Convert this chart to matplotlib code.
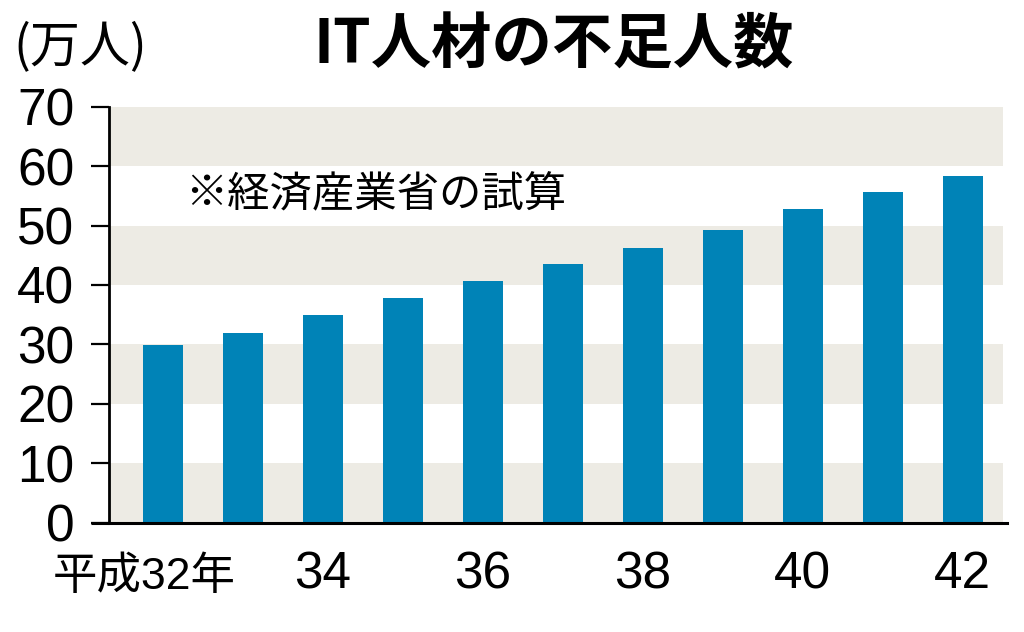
import matplotlib
matplotlib.use("Agg")
import matplotlib.pyplot as plt
import matplotlib.transforms as mtransforms

years = ["32", "33", "34", "35", "36", "37", "38", "39", "40", "41", "42"]
values = [29.9, 32.0, 34.9, 37.8, 40.6, 43.5, 46.3, 49.2, 52.8, 55.6, 58.4]
tick_positions = [0, 2, 4, 6, 8, 10]
tick_labels = ["平成32年", "34", "36", "38", "40", "42"]
yticks = [0, 10, 20, 30, 40, 50, 60, 70]
bands = [(0, 10), (20, 30), (40, 50), (60, 70)]

title = "IT人材の不足人数"
unit = "(万人)"
note = "※経済産業省の試算"

BAR = "#0083B7"
BAND = "#EDEBE4"
FONTS = ["Liberation Sans", "Noto Sans CJK JP", "DejaVu Sans"]
CJK = ["Noto Sans CJK JP", "DejaVu Sans"]

plt.rcParams["font.family"] = FONTS

fig = plt.figure(figsize=(10.24, 6.32), dpi=100)
ax = fig.add_axes([109 / 1024, 109.3 / 632, 898 / 1024, 416 / 632])

x = list(range(len(values)))
ax.set_xlim(-0.669, 10.556)
ax.set_ylim(0, 70)

band_frac = (1003 - 109) / 898
for lo, hi in bands:
    ax.axhspan(lo, hi, xmin=0, xmax=band_frac, color=BAND, lw=0, zorder=0)

ax.bar(x, values, width=0.5, color=BAR, zorder=2)

for s in ["top", "right"]:
    ax.spines[s].set_visible(False)
ax.spines["left"].set_linewidth(2)
ax.spines["bottom"].set_linewidth(2.2)
ax.spines["bottom"].set_zorder(3)

ax.set_yticks(yticks)
ax.set_yticklabels([str(v) for v in yticks])
ax.tick_params(axis="y", length=13, width=1.6, pad=12, labelsize=37, direction="out")

ax.set_xticks(tick_positions)
ax.set_xticklabels(tick_labels)
ax.tick_params(axis="x", length=0, pad=20, labelsize=37)

lbls = ax.get_xticklabels()
lbls[0].set_fontsize(32)
lbls[0].set_transform(lbls[0].get_transform() +
                      mtransforms.ScaledTranslation(-18.5 / 100, -6 / 100, fig.dpi_scale_trans))

# extend bottom line leftwards to tick length
ax.plot([-0.669 - 18 / 80, -0.669], [0, 0], color="black", lw=2.2,
        clip_on=False, zorder=3, solid_capstyle="butt")

fig.text(554 / 1024, 1 - 46 / 632, title, fontsize=43.5, fontweight="bold",
         family=CJK, ha="center", va="center")
fig.text(13 / 1024, 1 - 47 / 632, unit, fontsize=36, family=CJK,
         ha="left", va="center")
ax.text(0.28, 55.1, note, fontsize=30.5, family=CJK, ha="left", va="center", zorder=4)

fig.savefig("out.png", dpi=100)
